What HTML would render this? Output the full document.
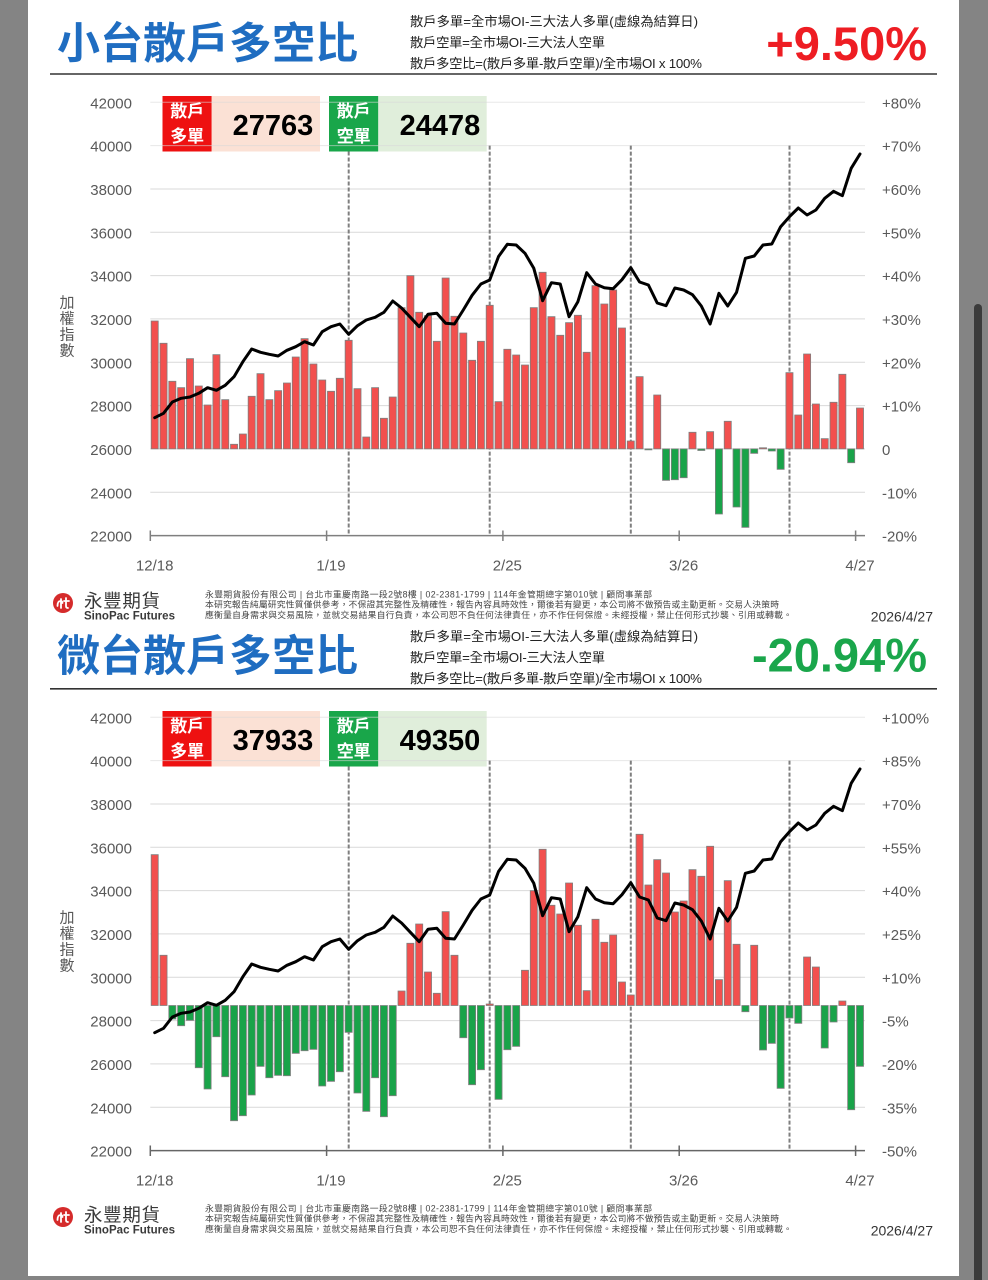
<!DOCTYPE html>
<html><head><meta charset="utf-8">
<style>
html,body{margin:0;padding:0;background:#848484;width:988px;height:1280px;overflow:hidden}
svg{display:block}
.cj{font-family:"Liberation Sans","Noto Sans CJK TC",sans-serif}
.ax{font-family:"Liberation Sans",sans-serif;font-size:15px;fill:#595959}
</style></head>
<body>
<svg width="988" height="1280" viewBox="0 0 988 1280" xmlns="http://www.w3.org/2000/svg">
<rect x="0" y="0" width="988" height="1280" fill="#848484"/>
<rect x="28" y="0" width="931" height="1276" fill="#ffffff"/>
<rect x="974" y="304" width="8" height="990" rx="4" fill="#3b3b3b"/>

<!-- ================= TOP HEADER ================= -->
<text x="57" y="58.5" font-family="'Noto Sans CJK TC','Noto Sans CJK SC',sans-serif" font-weight="700" font-size="43" fill="#1f6dc1">小台散戶多空比</text>
<g class="cj" font-size="13.3" fill="#222">
<text x="410" y="26" textLength="288">散戶多單=全市場OI-三大法人多單(虛線為結算日)</text>
<text x="410" y="47" textLength="195">散戶空單=全市場OI-三大法人空單</text>
<text x="410" y="68" textLength="292">散戶多空比=(散戶多單-散戶空單)/全市場OI x 100%</text>
</g>
<text x="927" y="60" text-anchor="end" font-family="'Liberation Sans',sans-serif" font-weight="700" font-size="47" fill="#ee1d23">+9.50%</text>
<line x1="50" y1="74" x2="937" y2="74" stroke="#333" stroke-width="1.6"/>

<!-- ================= TOP CHART ================= -->
<!-- boxes -->
<rect x="162.5" y="96" width="49.2" height="55.5" fill="#ee1111"/>
<rect x="211.7" y="96" width="108.3" height="55.5" fill="#fbe1d5"/>
<rect x="329" y="96" width="49.3" height="55.5" fill="#19a64a"/>
<rect x="378.3" y="96" width="108.4" height="55.5" fill="#e0eedb"/>
<g stroke="#d9d9d9" stroke-width="1">
<line x1="150.3" y1="102.3" x2="865" y2="102.3" opacity="0.6"/>
<line x1="150.3" y1="145.6" x2="865" y2="145.6" opacity="0.6"/>
<line x1="150.3" y1="189" x2="865" y2="189"/>
<line x1="150.3" y1="232.3" x2="865" y2="232.3"/>
<line x1="150.3" y1="275.6" x2="865" y2="275.6"/>
<line x1="150.3" y1="318.9" x2="865" y2="318.9"/>
<line x1="150.3" y1="362.3" x2="865" y2="362.3"/>
<line x1="150.3" y1="405.6" x2="865" y2="405.6"/>
<line x1="150.3" y1="448.9" x2="865" y2="448.9"/>
<line x1="150.3" y1="492.3" x2="865" y2="492.3"/>
</g>
<g class="cj" font-weight="700" font-size="17" fill="#fff" text-anchor="middle">
<text x="187.2" y="117">散戶</text><text x="187.2" y="142">多單</text>
<text x="353.7" y="117">散戶</text><text x="353.7" y="142">空單</text>
</g>
<g font-family="'Liberation Sans',sans-serif" font-weight="700" font-size="29" fill="#000" text-anchor="middle">
<text x="273" y="135">27763</text><text x="440" y="135">24478</text>
</g>
<!-- dashed settlement lines -->
<g stroke="#7f7f7f" stroke-width="2" stroke-dasharray="4,2">
<line x1="348.7" y1="151.5" x2="348.7" y2="535.6"/>
<line x1="489.7" y1="145.6" x2="489.7" y2="535.6"/>
<line x1="630.8" y1="145.6" x2="630.8" y2="535.6"/>
<line x1="789.5" y1="145.6" x2="789.5" y2="535.6"/>
</g>

<svg x="150.3" y="0" width="714.1" height="1280" viewBox="0 0 81 1280" preserveAspectRatio="none" overflow="visible">
<g fill="#f2504e" stroke="#7f7f7f" stroke-width="0.8" vector-effect="non-scaling-stroke">
<rect x="0.1" y="321" width="0.8" height="127.9" vector-effect="non-scaling-stroke"/>
<rect x="1.1" y="343.3" width="0.8" height="105.6" vector-effect="non-scaling-stroke"/>
<rect x="2.1" y="381.3" width="0.8" height="67.6" vector-effect="non-scaling-stroke"/>
<rect x="3.1" y="387.7" width="0.8" height="61.2" vector-effect="non-scaling-stroke"/>
<rect x="4.1" y="358.7" width="0.8" height="90.2" vector-effect="non-scaling-stroke"/>
<rect x="5.1" y="386" width="0.8" height="62.9" vector-effect="non-scaling-stroke"/>
<rect x="6.1" y="405" width="0.8" height="43.9" vector-effect="non-scaling-stroke"/>
<rect x="7.1" y="354.7" width="0.8" height="94.2" vector-effect="non-scaling-stroke"/>
<rect x="8.1" y="399.7" width="0.8" height="49.2" vector-effect="non-scaling-stroke"/>
<rect x="9.1" y="444.3" width="0.8" height="4.6" vector-effect="non-scaling-stroke"/>
<rect x="10.1" y="434" width="0.8" height="14.9" vector-effect="non-scaling-stroke"/>
<rect x="11.1" y="396.3" width="0.8" height="52.6" vector-effect="non-scaling-stroke"/>
<rect x="12.1" y="373.7" width="0.8" height="75.2" vector-effect="non-scaling-stroke"/>
<rect x="13.1" y="399.7" width="0.8" height="49.2" vector-effect="non-scaling-stroke"/>
<rect x="14.1" y="390.7" width="0.8" height="58.2" vector-effect="non-scaling-stroke"/>
<rect x="15.1" y="383" width="0.8" height="65.9" vector-effect="non-scaling-stroke"/>
<rect x="16.1" y="357" width="0.8" height="91.9" vector-effect="non-scaling-stroke"/>
<rect x="17.1" y="338.7" width="0.8" height="110.2" vector-effect="non-scaling-stroke"/>
<rect x="18.1" y="364" width="0.8" height="84.9" vector-effect="non-scaling-stroke"/>
<rect x="19.1" y="380" width="0.8" height="68.9" vector-effect="non-scaling-stroke"/>
<rect x="20.1" y="391.3" width="0.8" height="57.6" vector-effect="non-scaling-stroke"/>
<rect x="21.1" y="378.3" width="0.8" height="70.6" vector-effect="non-scaling-stroke"/>
<rect x="22.1" y="340.3" width="0.8" height="108.6" vector-effect="non-scaling-stroke"/>
<rect x="23.1" y="388.7" width="0.8" height="60.2" vector-effect="non-scaling-stroke"/>
<rect x="24.1" y="437" width="0.8" height="11.9" vector-effect="non-scaling-stroke"/>
<rect x="25.1" y="387.7" width="0.8" height="61.2" vector-effect="non-scaling-stroke"/>
<rect x="26.1" y="418.3" width="0.8" height="30.6" vector-effect="non-scaling-stroke"/>
<rect x="27.1" y="397" width="0.8" height="51.9" vector-effect="non-scaling-stroke"/>
<rect x="28.1" y="307.7" width="0.8" height="141.2" vector-effect="non-scaling-stroke"/>
<rect x="29.1" y="275.7" width="0.8" height="173.2" vector-effect="non-scaling-stroke"/>
<rect x="30.1" y="312.3" width="0.8" height="136.6" vector-effect="non-scaling-stroke"/>
<rect x="31.1" y="315.7" width="0.8" height="133.2" vector-effect="non-scaling-stroke"/>
<rect x="32.1" y="341.3" width="0.8" height="107.6" vector-effect="non-scaling-stroke"/>
<rect x="33.1" y="278" width="0.8" height="170.9" vector-effect="non-scaling-stroke"/>
<rect x="34.1" y="316.3" width="0.8" height="132.6" vector-effect="non-scaling-stroke"/>
<rect x="35.1" y="333" width="0.8" height="115.9" vector-effect="non-scaling-stroke"/>
<rect x="36.1" y="360.3" width="0.8" height="88.6" vector-effect="non-scaling-stroke"/>
<rect x="37.1" y="341.3" width="0.8" height="107.6" vector-effect="non-scaling-stroke"/>
<rect x="38.1" y="305.3" width="0.8" height="143.6" vector-effect="non-scaling-stroke"/>
<rect x="39.1" y="401.7" width="0.8" height="47.2" vector-effect="non-scaling-stroke"/>
<rect x="40.1" y="349.3" width="0.8" height="99.6" vector-effect="non-scaling-stroke"/>
<rect x="41.1" y="355" width="0.8" height="93.9" vector-effect="non-scaling-stroke"/>
<rect x="42.1" y="365" width="0.8" height="83.9" vector-effect="non-scaling-stroke"/>
<rect x="43.1" y="307.7" width="0.8" height="141.2" vector-effect="non-scaling-stroke"/>
<rect x="44.1" y="272.3" width="0.8" height="176.6" vector-effect="non-scaling-stroke"/>
<rect x="45.1" y="316.7" width="0.8" height="132.2" vector-effect="non-scaling-stroke"/>
<rect x="46.1" y="335.3" width="0.8" height="113.6" vector-effect="non-scaling-stroke"/>
<rect x="47.1" y="322.7" width="0.8" height="126.2" vector-effect="non-scaling-stroke"/>
<rect x="48.1" y="315.3" width="0.8" height="133.6" vector-effect="non-scaling-stroke"/>
<rect x="49.1" y="352.3" width="0.8" height="96.6" vector-effect="non-scaling-stroke"/>
<rect x="50.1" y="285.7" width="0.8" height="163.2" vector-effect="non-scaling-stroke"/>
<rect x="51.1" y="304" width="0.8" height="144.9" vector-effect="non-scaling-stroke"/>
<rect x="52.1" y="290" width="0.8" height="158.9" vector-effect="non-scaling-stroke"/>
<rect x="53.1" y="328" width="0.8" height="120.9" vector-effect="non-scaling-stroke"/>
<rect x="54.1" y="441" width="0.8" height="7.9" vector-effect="non-scaling-stroke"/>
<rect x="55.1" y="376.7" width="0.8" height="72.2" vector-effect="non-scaling-stroke"/>
<rect x="57.1" y="395" width="0.8" height="53.9" vector-effect="non-scaling-stroke"/>
<rect x="61.1" y="432.3" width="0.8" height="16.6" vector-effect="non-scaling-stroke"/>
<rect x="63.1" y="431.7" width="0.8" height="17.2" vector-effect="non-scaling-stroke"/>
<rect x="65.1" y="421.3" width="0.8" height="27.6" vector-effect="non-scaling-stroke"/>
<rect x="69.1" y="447.8" width="0.8" height="1.1" vector-effect="non-scaling-stroke"/>
<rect x="72.1" y="372.7" width="0.8" height="76.2" vector-effect="non-scaling-stroke"/>
<rect x="73.1" y="415" width="0.8" height="33.9" vector-effect="non-scaling-stroke"/>
<rect x="74.1" y="354" width="0.8" height="94.9" vector-effect="non-scaling-stroke"/>
<rect x="75.1" y="404" width="0.8" height="44.9" vector-effect="non-scaling-stroke"/>
<rect x="76.1" y="438.7" width="0.8" height="10.2" vector-effect="non-scaling-stroke"/>
<rect x="77.1" y="402.3" width="0.8" height="46.6" vector-effect="non-scaling-stroke"/>
<rect x="78.1" y="374.3" width="0.8" height="74.6" vector-effect="non-scaling-stroke"/>
<rect x="80.1" y="408" width="0.8" height="40.9" vector-effect="non-scaling-stroke"/>
</g>
<g fill="#19a349" stroke="#7f7f7f" stroke-width="0.8">
<rect x="56.1" y="448.9" width="0.8" height="1" vector-effect="non-scaling-stroke"/>
<rect x="58.1" y="448.9" width="0.8" height="31.4" vector-effect="non-scaling-stroke"/>
<rect x="59.1" y="448.9" width="0.8" height="30.8" vector-effect="non-scaling-stroke"/>
<rect x="60.1" y="448.9" width="0.8" height="28.8" vector-effect="non-scaling-stroke"/>
<rect x="62.1" y="448.9" width="0.8" height="1.6" vector-effect="non-scaling-stroke"/>
<rect x="64.1" y="448.9" width="0.8" height="65.1" vector-effect="non-scaling-stroke"/>
<rect x="66.1" y="448.9" width="0.8" height="58.1" vector-effect="non-scaling-stroke"/>
<rect x="67.1" y="448.9" width="0.8" height="78.4" vector-effect="non-scaling-stroke"/>
<rect x="68.1" y="448.9" width="0.8" height="4.4" vector-effect="non-scaling-stroke"/>
<rect x="70.1" y="448.9" width="0.8" height="2.1" vector-effect="non-scaling-stroke"/>
<rect x="71.1" y="448.9" width="0.8" height="20.4" vector-effect="non-scaling-stroke"/>
<rect x="79.1" y="448.9" width="0.8" height="13.8" vector-effect="non-scaling-stroke"/>
</g>
<polyline id="idx" fill="none" stroke="#000" stroke-width="3" stroke-linejoin="round" stroke-linecap="round" vector-effect="non-scaling-stroke" points="0.5,417.7 1.5,413.3 2.5,402 3.5,398.3 4.5,397 5.5,393.3 6.5,387.7 7.5,390.3 8.5,385.3 9.5,376.7 10.5,361.7 11.5,349 12.5,352.3 13.5,354.3 14.5,356 15.5,350.3 16.5,346.7 17.5,341.7 18.5,345 19.5,331.7 20.5,326.7 21.5,324 22.5,334.3 23.5,325.7 24.5,320 25.5,317.3 26.5,312.3 27.5,301 28.5,308 29.5,317.3 30.5,326.7 31.5,314.3 32.5,313.3 33.5,323.3 34.5,324 35.5,310 36.5,295.3 37.5,284 38.5,280 39.5,256.5 40.5,244.3 41.5,245 42.5,253.3 43.5,268.3 44.5,300.7 45.5,282.7 46.5,284 47.5,316.7 48.5,301.7 49.5,272.7 50.5,284 51.5,287.7 52.5,288.7 53.5,279.7 54.5,267.7 55.5,282 56.5,285 57.5,303 58.5,305.7 59.5,288 60.5,290 61.5,294.7 62.5,306 63.5,324 64.5,293.3 65.5,306 66.5,292.3 67.5,258.3 68.5,256 69.5,245 70.5,244 71.5,226.7 72.5,216.7 73.5,208 74.5,215 75.5,210 76.5,198.3 77.5,191.3 78.5,195.7 79.5,168.3 80.5,154"/>
</svg>

<!-- axis top -->
<g stroke="#7f7f7f" stroke-width="1.5">
<line x1="150.3" y1="535.6" x2="865" y2="535.6"/>
<line x1="150.3" y1="530.5" x2="150.3" y2="541"/>
<line x1="326.6" y1="530.5" x2="326.6" y2="541"/>
<line x1="502.9" y1="530.5" x2="502.9" y2="541"/>
<line x1="679.2" y1="530.5" x2="679.2" y2="541"/>
<line x1="855.6" y1="530.5" x2="855.6" y2="541"/>
</g>
<g class="ax" text-anchor="end">
<text x="132" y="108.3">42000</text><text x="132" y="151.6">40000</text><text x="132" y="195">38000</text><text x="132" y="238.3">36000</text><text x="132" y="281.6">34000</text><text x="132" y="324.9">32000</text><text x="132" y="368.3">30000</text><text x="132" y="411.6">28000</text><text x="132" y="454.9">26000</text><text x="132" y="498.3">24000</text><text x="132" y="541.6">22000</text>
</g>
<g class="ax">
<text x="882" y="108.3">+80%</text><text x="882" y="151.6">+70%</text><text x="882" y="195">+60%</text><text x="882" y="238.3">+50%</text><text x="882" y="281.6">+40%</text><text x="882" y="324.9">+30%</text><text x="882" y="368.3">+20%</text><text x="882" y="411.6">+10%</text><text x="882" y="454.9">0</text><text x="882" y="498.3">-10%</text><text x="882" y="541.6">-20%</text>
</g>
<g class="ax" font-size="15.5" text-anchor="middle">
<text x="154.7" y="570.5">12/18</text><text x="331" y="570.5">1/19</text><text x="507.3" y="570.5">2/25</text><text x="683.6" y="570.5">3/26</text><text x="860" y="570.5">4/27</text>
</g>
<g class="cj" font-size="15" fill="#595959" text-anchor="middle">
<text x="67" y="307.5">加</text><text x="67" y="323.5">權</text><text x="67" y="339.5">指</text><text x="67" y="355.5">數</text>
</g>

<!-- footer top -->
<g id="foot1">
<circle cx="63" cy="603" r="10" fill="#d52b2b"/>
<path d="M57.5 606 q0 -5 3 -5 q2 0 2 2 M61 599 v9 M64 601 h5 M66 598 v8 q0 2 2 2" fill="none" stroke="#fff" stroke-width="1.8" stroke-linecap="round"/>
<text x="84" y="607.5" class="cj" font-size="18.5" fill="#3a3a3a" textLength="76">永豐期貨</text>
<text x="84" y="619.5" font-family="'Liberation Sans',sans-serif" font-weight="700" font-size="11.5" fill="#3a3a3a" textLength="91">SinoPac Futures</text>
<g class="cj" font-size="8.8" fill="#444">
<text x="205" y="597.3" textLength="447">永豐期貨股份有限公司 | 台北市重慶南路一段2號8樓 | 02-2381-1799 | 114年金管期總字第010號 | 顧問事業部</text>
<text x="205" y="607.6" textLength="574">本研究報告純屬研究性質僅供參考，不保證其完整性及精確性，報告內容具時效性，爾後若有變更，本公司將不做預告或主動更新。交易人決策時</text>
<text x="205" y="617.8" textLength="587">應衡量自身需求與交易風險，並就交易結果自行負責，本公司恕不負任何法律責任，亦不作任何保證。未經授權，禁止任何形式抄襲、引用或轉載。</text>
</g>
<text x="933" y="621.5" text-anchor="end" font-family="'Liberation Sans',sans-serif" font-size="14" fill="#333">2026/4/27</text>
</g>

<!-- ================= BOTTOM HEADER ================= -->
<text x="57" y="671" font-family="'Noto Sans CJK TC','Noto Sans CJK SC',sans-serif" font-weight="700" font-size="43" fill="#1f6dc1">微台散戶多空比</text>
<g class="cj" font-size="13.3" fill="#222">
<text x="410" y="641" textLength="288">散戶多單=全市場OI-三大法人多單(虛線為結算日)</text>
<text x="410" y="662" textLength="195">散戶空單=全市場OI-三大法人空單</text>
<text x="410" y="683" textLength="292">散戶多空比=(散戶多單-散戶空單)/全市場OI x 100%</text>
</g>
<text x="927" y="671.7" text-anchor="end" font-family="'Liberation Sans',sans-serif" font-weight="700" font-size="47" fill="#1aa64b">-20.94%</text>
<line x1="50" y1="688.8" x2="937" y2="688.8" stroke="#333" stroke-width="1.6"/>

<!-- ================= BOTTOM CHART ================= -->
<rect x="162.5" y="711" width="49.2" height="55.5" fill="#ee1111"/>
<rect x="211.7" y="711" width="108.3" height="55.5" fill="#fbe1d5"/>
<rect x="329" y="711" width="49.3" height="55.5" fill="#19a64a"/>
<rect x="378.3" y="711" width="108.4" height="55.5" fill="#e0eedb"/>
<g stroke="#d9d9d9" stroke-width="1">
<line x1="150.3" y1="717.3" x2="865" y2="717.3" opacity="0.6"/>
<line x1="150.3" y1="760.6" x2="865" y2="760.6" opacity="0.6"/>
<line x1="150.3" y1="804" x2="865" y2="804"/>
<line x1="150.3" y1="847.3" x2="865" y2="847.3"/>
<line x1="150.3" y1="890.6" x2="865" y2="890.6"/>
<line x1="150.3" y1="933.9" x2="865" y2="933.9"/>
<line x1="150.3" y1="977.3" x2="865" y2="977.3"/>
<line x1="150.3" y1="1020.6" x2="865" y2="1020.6"/>
<line x1="150.3" y1="1063.9" x2="865" y2="1063.9"/>
<line x1="150.3" y1="1107.3" x2="865" y2="1107.3"/>
</g>
<g class="cj" font-weight="700" font-size="17" fill="#fff" text-anchor="middle">
<text x="187.2" y="732">散戶</text><text x="187.2" y="757">多單</text>
<text x="353.7" y="732">散戶</text><text x="353.7" y="757">空單</text>
</g>
<g font-family="'Liberation Sans',sans-serif" font-weight="700" font-size="29" fill="#000" text-anchor="middle">
<text x="273" y="750">37933</text><text x="440" y="750">49350</text>
</g>
<g stroke="#7f7f7f" stroke-width="2" stroke-dasharray="4,2">
<line x1="348.7" y1="766.5" x2="348.7" y2="1150.6"/>
<line x1="489.7" y1="760.6" x2="489.7" y2="1150.6"/>
<line x1="630.8" y1="760.6" x2="630.8" y2="1150.6"/>
<line x1="789.5" y1="760.6" x2="789.5" y2="1150.6"/>
</g>

<svg x="150.3" y="0" width="714.1" height="1280" viewBox="0 0 81 1280" preserveAspectRatio="none" overflow="visible">
<g fill="#f2504e" stroke="#7f7f7f" stroke-width="0.8">
<rect x="0.1" y="854.7" width="0.8" height="150.8" vector-effect="non-scaling-stroke"/>
<rect x="1.1" y="955.3" width="0.8" height="50.2" vector-effect="non-scaling-stroke"/>
<rect x="28.1" y="991" width="0.8" height="14.5" vector-effect="non-scaling-stroke"/>
<rect x="29.1" y="943.3" width="0.8" height="62.2" vector-effect="non-scaling-stroke"/>
<rect x="30.1" y="924" width="0.8" height="81.5" vector-effect="non-scaling-stroke"/>
<rect x="31.1" y="972" width="0.8" height="33.5" vector-effect="non-scaling-stroke"/>
<rect x="32.1" y="993.3" width="0.8" height="12.2" vector-effect="non-scaling-stroke"/>
<rect x="33.1" y="911.7" width="0.8" height="93.8" vector-effect="non-scaling-stroke"/>
<rect x="34.1" y="955.3" width="0.8" height="50.2" vector-effect="non-scaling-stroke"/>
<rect x="38.1" y="1004" width="0.8" height="1.5" vector-effect="non-scaling-stroke"/>
<rect x="42.1" y="970.3" width="0.8" height="35.2" vector-effect="non-scaling-stroke"/>
<rect x="43.1" y="890.7" width="0.8" height="114.8" vector-effect="non-scaling-stroke"/>
<rect x="44.1" y="849.3" width="0.8" height="156.2" vector-effect="non-scaling-stroke"/>
<rect x="45.1" y="905.3" width="0.8" height="100.2" vector-effect="non-scaling-stroke"/>
<rect x="46.1" y="914" width="0.8" height="91.5" vector-effect="non-scaling-stroke"/>
<rect x="47.1" y="883" width="0.8" height="122.5" vector-effect="non-scaling-stroke"/>
<rect x="48.1" y="925.3" width="0.8" height="80.2" vector-effect="non-scaling-stroke"/>
<rect x="49.1" y="990.7" width="0.8" height="14.8" vector-effect="non-scaling-stroke"/>
<rect x="50.1" y="919.3" width="0.8" height="86.2" vector-effect="non-scaling-stroke"/>
<rect x="51.1" y="942.3" width="0.8" height="63.2" vector-effect="non-scaling-stroke"/>
<rect x="52.1" y="935" width="0.8" height="70.5" vector-effect="non-scaling-stroke"/>
<rect x="53.1" y="982" width="0.8" height="23.5" vector-effect="non-scaling-stroke"/>
<rect x="54.1" y="995" width="0.8" height="10.5" vector-effect="non-scaling-stroke"/>
<rect x="55.1" y="834.3" width="0.8" height="171.2" vector-effect="non-scaling-stroke"/>
<rect x="56.1" y="885" width="0.8" height="120.5" vector-effect="non-scaling-stroke"/>
<rect x="57.1" y="859.7" width="0.8" height="145.8" vector-effect="non-scaling-stroke"/>
<rect x="58.1" y="873" width="0.8" height="132.5" vector-effect="non-scaling-stroke"/>
<rect x="59.1" y="912" width="0.8" height="93.5" vector-effect="non-scaling-stroke"/>
<rect x="60.1" y="901" width="0.8" height="104.5" vector-effect="non-scaling-stroke"/>
<rect x="61.1" y="869.7" width="0.8" height="135.8" vector-effect="non-scaling-stroke"/>
<rect x="62.1" y="876.3" width="0.8" height="129.2" vector-effect="non-scaling-stroke"/>
<rect x="63.1" y="846.3" width="0.8" height="159.2" vector-effect="non-scaling-stroke"/>
<rect x="64.1" y="979.7" width="0.8" height="25.8" vector-effect="non-scaling-stroke"/>
<rect x="65.1" y="880.7" width="0.8" height="124.8" vector-effect="non-scaling-stroke"/>
<rect x="66.1" y="944.3" width="0.8" height="61.2" vector-effect="non-scaling-stroke"/>
<rect x="68.1" y="945.3" width="0.8" height="60.2" vector-effect="non-scaling-stroke"/>
<rect x="74.1" y="957" width="0.8" height="48.5" vector-effect="non-scaling-stroke"/>
<rect x="75.1" y="967" width="0.8" height="38.5" vector-effect="non-scaling-stroke"/>
<rect x="78.1" y="1001" width="0.8" height="4.5" vector-effect="non-scaling-stroke"/>
</g>
<g fill="#19a349" stroke="#7f7f7f" stroke-width="0.8">
<rect x="2.1" y="1005.5" width="0.8" height="13.5" vector-effect="non-scaling-stroke"/>
<rect x="3.1" y="1005.5" width="0.8" height="20.2" vector-effect="non-scaling-stroke"/>
<rect x="4.1" y="1005.5" width="0.8" height="14.8" vector-effect="non-scaling-stroke"/>
<rect x="5.1" y="1005.5" width="0.8" height="62.2" vector-effect="non-scaling-stroke"/>
<rect x="6.1" y="1005.5" width="0.8" height="83.5" vector-effect="non-scaling-stroke"/>
<rect x="7.1" y="1005.5" width="0.8" height="31.2" vector-effect="non-scaling-stroke"/>
<rect x="8.1" y="1005.5" width="0.8" height="71.2" vector-effect="non-scaling-stroke"/>
<rect x="9.1" y="1005.5" width="0.8" height="115.2" vector-effect="non-scaling-stroke"/>
<rect x="10.1" y="1005.5" width="0.8" height="110.2" vector-effect="non-scaling-stroke"/>
<rect x="11.1" y="1005.5" width="0.8" height="89.5" vector-effect="non-scaling-stroke"/>
<rect x="12.1" y="1005.5" width="0.8" height="60.8" vector-effect="non-scaling-stroke"/>
<rect x="13.1" y="1005.5" width="0.8" height="72.2" vector-effect="non-scaling-stroke"/>
<rect x="14.1" y="1005.5" width="0.8" height="69.8" vector-effect="non-scaling-stroke"/>
<rect x="15.1" y="1005.5" width="0.8" height="70.2" vector-effect="non-scaling-stroke"/>
<rect x="16.1" y="1005.5" width="0.8" height="47.8" vector-effect="non-scaling-stroke"/>
<rect x="17.1" y="1005.5" width="0.8" height="45.2" vector-effect="non-scaling-stroke"/>
<rect x="18.1" y="1005.5" width="0.8" height="43.8" vector-effect="non-scaling-stroke"/>
<rect x="19.1" y="1005.5" width="0.8" height="80.5" vector-effect="non-scaling-stroke"/>
<rect x="20.1" y="1005.5" width="0.8" height="75.8" vector-effect="non-scaling-stroke"/>
<rect x="21.1" y="1005.5" width="0.8" height="66.2" vector-effect="non-scaling-stroke"/>
<rect x="22.1" y="1005.5" width="0.8" height="26.8" vector-effect="non-scaling-stroke"/>
<rect x="23.1" y="1005.5" width="0.8" height="87.5" vector-effect="non-scaling-stroke"/>
<rect x="24.1" y="1005.5" width="0.8" height="105.8" vector-effect="non-scaling-stroke"/>
<rect x="25.1" y="1005.5" width="0.8" height="72.2" vector-effect="non-scaling-stroke"/>
<rect x="26.1" y="1005.5" width="0.8" height="111.2" vector-effect="non-scaling-stroke"/>
<rect x="27.1" y="1005.5" width="0.8" height="90.2" vector-effect="non-scaling-stroke"/>
<rect x="35.1" y="1005.5" width="0.8" height="32.2" vector-effect="non-scaling-stroke"/>
<rect x="36.1" y="1005.5" width="0.8" height="79.2" vector-effect="non-scaling-stroke"/>
<rect x="37.1" y="1005.5" width="0.8" height="64.2" vector-effect="non-scaling-stroke"/>
<rect x="39.1" y="1005.5" width="0.8" height="93.8" vector-effect="non-scaling-stroke"/>
<rect x="40.1" y="1005.5" width="0.8" height="44.2" vector-effect="non-scaling-stroke"/>
<rect x="41.1" y="1005.5" width="0.8" height="40.8" vector-effect="non-scaling-stroke"/>
<rect x="67.1" y="1005.5" width="0.8" height="6.2" vector-effect="non-scaling-stroke"/>
<rect x="69.1" y="1005.5" width="0.8" height="44.5" vector-effect="non-scaling-stroke"/>
<rect x="70.1" y="1005.5" width="0.8" height="37.8" vector-effect="non-scaling-stroke"/>
<rect x="71.1" y="1005.5" width="0.8" height="82.8" vector-effect="non-scaling-stroke"/>
<rect x="72.1" y="1005.5" width="0.8" height="12.5" vector-effect="non-scaling-stroke"/>
<rect x="73.1" y="1005.5" width="0.8" height="17.8" vector-effect="non-scaling-stroke"/>
<rect x="76.1" y="1005.5" width="0.8" height="42.5" vector-effect="non-scaling-stroke"/>
<rect x="77.1" y="1005.5" width="0.8" height="16.5" vector-effect="non-scaling-stroke"/>
<rect x="79.1" y="1005.5" width="0.8" height="104.2" vector-effect="non-scaling-stroke"/>
<rect x="80.1" y="1005.5" width="0.8" height="60.8" vector-effect="non-scaling-stroke"/>
</g>
<g transform="translate(0,615)">
<polyline fill="none" stroke="#000" stroke-width="3" stroke-linejoin="round" stroke-linecap="round" vector-effect="non-scaling-stroke" points="0.5,417.7 1.5,413.3 2.5,402 3.5,398.3 4.5,397 5.5,393.3 6.5,387.7 7.5,390.3 8.5,385.3 9.5,376.7 10.5,361.7 11.5,349 12.5,352.3 13.5,354.3 14.5,356 15.5,350.3 16.5,346.7 17.5,341.7 18.5,345 19.5,331.7 20.5,326.7 21.5,324 22.5,334.3 23.5,325.7 24.5,320 25.5,317.3 26.5,312.3 27.5,301 28.5,308 29.5,317.3 30.5,326.7 31.5,314.3 32.5,313.3 33.5,323.3 34.5,324 35.5,310 36.5,295.3 37.5,284 38.5,280 39.5,256.5 40.5,244.3 41.5,245 42.5,253.3 43.5,268.3 44.5,300.7 45.5,282.7 46.5,284 47.5,316.7 48.5,301.7 49.5,272.7 50.5,284 51.5,287.7 52.5,288.7 53.5,279.7 54.5,267.7 55.5,282 56.5,285 57.5,303 58.5,305.7 59.5,288 60.5,290 61.5,294.7 62.5,306 63.5,324 64.5,293.3 65.5,306 66.5,292.3 67.5,258.3 68.5,256 69.5,245 70.5,244 71.5,226.7 72.5,216.7 73.5,208 74.5,215 75.5,210 76.5,198.3 77.5,191.3 78.5,195.7 79.5,168.3 80.5,154"/>
</g>
</svg>

<g stroke="#666" stroke-width="1.5">
<line x1="150.3" y1="1150.6" x2="865" y2="1150.6"/>
<line x1="150.3" y1="1145.5" x2="150.3" y2="1156"/>
<line x1="326.6" y1="1145.5" x2="326.6" y2="1156"/>
<line x1="502.9" y1="1145.5" x2="502.9" y2="1156"/>
<line x1="679.2" y1="1145.5" x2="679.2" y2="1156"/>
<line x1="855.6" y1="1145.5" x2="855.6" y2="1156"/>
</g>
<g class="ax" text-anchor="end">
<text x="132" y="723.3">42000</text><text x="132" y="766.6">40000</text><text x="132" y="810">38000</text><text x="132" y="853.3">36000</text><text x="132" y="896.6">34000</text><text x="132" y="939.9">32000</text><text x="132" y="983.3">30000</text><text x="132" y="1026.6">28000</text><text x="132" y="1069.9">26000</text><text x="132" y="1113.3">24000</text><text x="132" y="1156.6">22000</text>
</g>
<g class="ax">
<text x="882" y="723.3">+100%</text><text x="882" y="766.6">+85%</text><text x="882" y="810">+70%</text><text x="882" y="853.3">+55%</text><text x="882" y="896.6">+40%</text><text x="882" y="939.9">+25%</text><text x="882" y="983.3">+10%</text><text x="882" y="1026.6">-5%</text><text x="882" y="1069.9">-20%</text><text x="882" y="1113.3">-35%</text><text x="882" y="1156.6">-50%</text>
</g>
<g class="ax" font-size="15.5" text-anchor="middle">
<text x="154.7" y="1185.5">12/18</text><text x="331" y="1185.5">1/19</text><text x="507.3" y="1185.5">2/25</text><text x="683.6" y="1185.5">3/26</text><text x="860" y="1185.5">4/27</text>
</g>
<g class="cj" font-size="15" fill="#595959" text-anchor="middle">
<text x="67" y="922.5">加</text><text x="67" y="938.5">權</text><text x="67" y="954.5">指</text><text x="67" y="970.5">數</text>
</g>

<!-- footer bottom -->
<g transform="translate(0,614)">
<circle cx="63" cy="603" r="10" fill="#d52b2b"/>
<path d="M57.5 606 q0 -5 3 -5 q2 0 2 2 M61 599 v9 M64 601 h5 M66 598 v8 q0 2 2 2" fill="none" stroke="#fff" stroke-width="1.8" stroke-linecap="round"/>
<text x="84" y="607.5" class="cj" font-size="18.5" fill="#3a3a3a" textLength="76">永豐期貨</text>
<text x="84" y="619.5" font-family="'Liberation Sans',sans-serif" font-weight="700" font-size="11.5" fill="#3a3a3a" textLength="91">SinoPac Futures</text>
<g class="cj" font-size="8.8" fill="#444">
<text x="205" y="597.3" textLength="447">永豐期貨股份有限公司 | 台北市重慶南路一段2號8樓 | 02-2381-1799 | 114年金管期總字第010號 | 顧問事業部</text>
<text x="205" y="607.6" textLength="574">本研究報告純屬研究性質僅供參考，不保證其完整性及精確性，報告內容具時效性，爾後若有變更，本公司將不做預告或主動更新。交易人決策時</text>
<text x="205" y="617.8" textLength="587">應衡量自身需求與交易風險，並就交易結果自行負責，本公司恕不負任何法律責任，亦不作任何保證。未經授權，禁止任何形式抄襲、引用或轉載。</text>
</g>
<text x="933" y="621.5" text-anchor="end" font-family="'Liberation Sans',sans-serif" font-size="14" fill="#333">2026/4/27</text>
</g>
</svg>
</body></html>
